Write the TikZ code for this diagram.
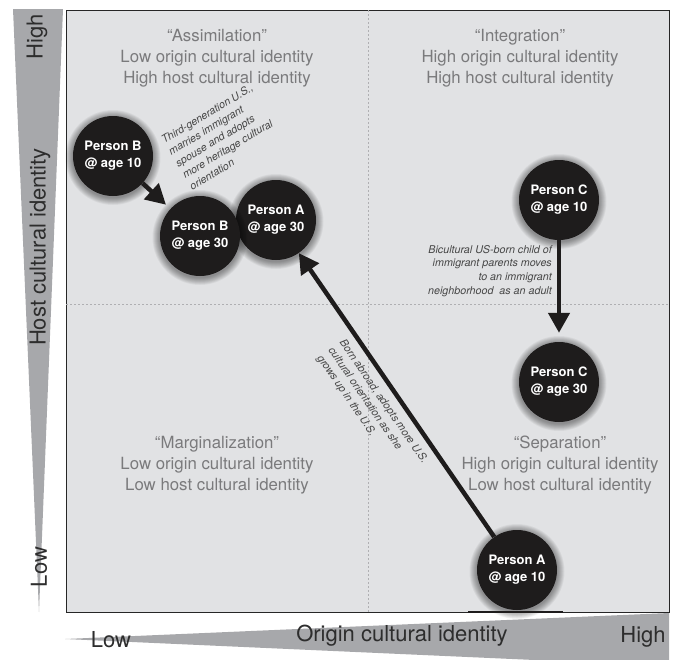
\documentclass[tikz,border=0pt]{standalone}
\usepackage{fontspec}
\setmainfont{TeX Gyre Heros}
\usetikzlibrary{arrows.meta}

\definecolor{panelgray}{RGB}{225,226,228}
\definecolor{wedgegray}{RGB}{167,168,171}
\definecolor{quadgray}{RGB}{122,122,124}
\definecolor{axisink}{RGB}{45,45,45}
\definecolor{noteink}{RGB}{70,70,70}
\definecolor{discblack}{RGB}{30,28,28}
\definecolor{gridgray}{RGB}{175,175,178}

% one person: soft halo, then the black disc with its label
\newcommand\persondisc[3]{%
  \foreach \g in {1,...,10}{%
    \fill[black,opacity=0.045] (#2) ++(0,1.5) circle[radius=40pt+\g*0.75pt];}
  \node[person] (#1) at (#2) {#3};
}

\begin{document}
\begin{tikzpicture}[x=1pt,y=-1pt,
  wedge/.style={fill=wedgegray},
  frame/.style={draw=black!85,line width=0.9pt,fill=panelgray},
  gridline/.style={draw=gridgray,line width=0.8pt,dash pattern=on 2pt off 2pt},
  quadtext/.style={text=quadgray,align=center,inner sep=0pt,
    font=\fontsize{16.8}{21}\selectfont},
  axislabel/.style={text=axisink,inner sep=0pt,font=\fontsize{22}{24}\selectfont},
  person/.style={circle,fill=discblack,text=white,align=center,inner sep=0pt,
    minimum size=80pt,font=\bfseries\fontsize{13}{17}\selectfont},
  note/.style={text=noteink,inner sep=0pt,
    font=\itshape\fontsize{10.7}{13.6}\selectfont},
  flow/.style={draw=discblack,line width=4.5pt,
    -{Triangle[length=20pt,width=21pt]}},
]
\useasboundingbox (0,0) rectangle (676,659);

% axis wedges
\fill[wedge] (13,9) -- (63,9) -- (39,612) -- cycle;
\fill[wedge] (65,639) -- (669,613) -- (669,666) -- cycle;

% panel and quadrant dividers
\draw[frame] (66,10) rectangle (669,612);
\draw[gridline] (368,10) -- (368,612);
\draw[gridline] (66,304) -- (669,304);

% quadrant captions
\node[quadtext] (assim) at (217,58) {“Assimilation”\\Low origin cultural identity\\High host cultural identity};
\node[quadtext] (integ) at (520,58) {“Integration”\\High origin cultural identity\\High host cultural identity};
\node[quadtext] (margin) at (217,465) {“Marginalization”\\Low origin cultural identity\\Low host cultural identity};
\node[quadtext] (separ) at (560,465) {“Separation”\\High origin cultural identity\\Low host cultural identity};

% axis labels
\node[axislabel,rotate=90] (yhigh) at (37,37) {High};
\node[axislabel,rotate=90] (ytitle) at (40,247) {Host cultural identity};
\node[axislabel,rotate=90] (ylow) at (39,567) {Low};
\node[axislabel] (xlow) at (111,640) {Low};
\node[axislabel] (xtitle) at (402,636) {Origin cultural identity};
\node[axislabel] (xhigh) at (643,637) {High};

% persons
\persondisc{B10}{113,156}{Person B\\@ age 10}
\persondisc{A30}{276,220}{Person A\\@ age 30}
\persondisc{B30}{200,236}{Person B\\@ age 30}
\persondisc{C10}{559,200}{Person C\\@ age 10}
\persondisc{C30}{559,382}{Person C\\@ age 30}
\persondisc{A10}{517,570}{Person A\\@ age 10}
\draw[discblack,line width=2pt] (468,611.5) -- (563,611.5);

% trajectories
\draw[flow,shorten >=6pt] (B10) -- (B30);
\draw[flow] (A10) -- (A30);
\draw[flow,shorten >=9pt] (C10) -- (C30);

% trajectory notes
\node[note,rotate=31,anchor=north west,align=left] (noteB) at (160,137)
  {Third-generation U.S.,\\marries immigrant\\spouse and adopts\\more heritage cultural\\orientation};
\node[note,anchor=north east,align=right] (noteC) at (552,245)
  {Bicultural US-born child of\\immigrant parents moves\\to an immigrant\\neighborhood\ \ as an adult};
\node[note,rotate=-55.5,anchor=north west,align=left] (noteA) at (346,338)
  {Born abroad, adopts more U.S.\\cultural orientation as she\\grows up in the U.S.};
\end{tikzpicture}
\end{document}
